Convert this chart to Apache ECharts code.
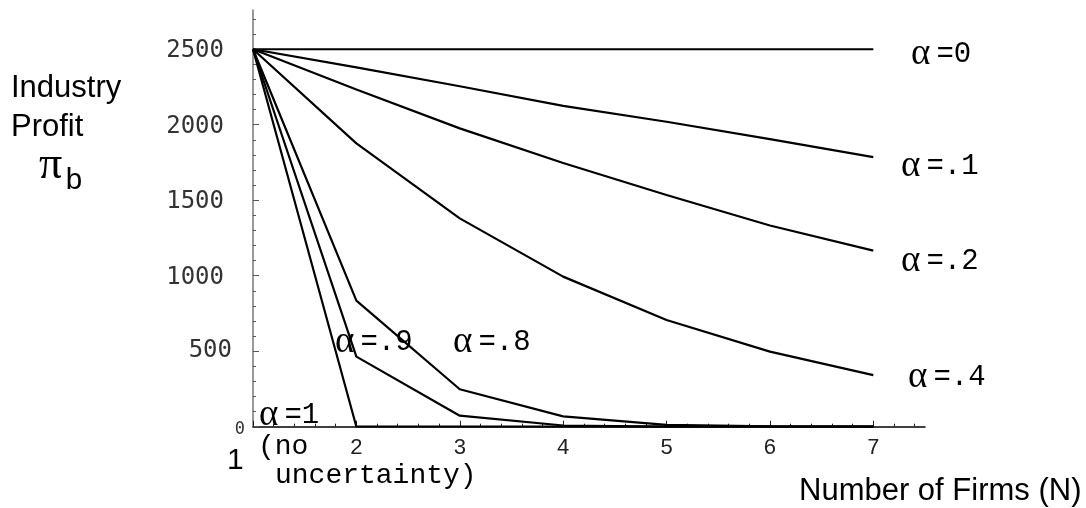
<!DOCTYPE html>
<html>
<head>
<meta charset="utf-8">
<script src="https://cdn.jsdelivr.net/npm/echarts@6/dist/echarts.min.js"></script>
<style>
html,body{margin:0;padding:0;background:#fff;}
#c{width:1086px;height:508px;}
</style>
</head>
<body>
<div id="c"></div>
<script>
// Number of firms
const N = [1, 2, 3, 4, 5, 6, 7];
// Industry profit for each alpha
const a0  = [2500, 2500, 2500, 2500, 2500, 2500, 2500];
const a1  = [2500, 2380, 2255, 2125, 2020, 1905, 1786];
const a2  = [2500, 2234, 1976, 1747, 1535, 1333, 1166];
const a4  = [2500, 1877, 1380, 994, 707, 497, 342];
const a8  = [2500, 835, 248, 68, 12, 2, 0];
const a9  = [2500, 464, 73, 8, 1, 0, 0];
const a10 = [2500, 0, 0, 0, 0, 0, 0];

// ticks
const yMajor = [0, 500, 1000, 1500, 2000, 2500];
const yMinor = [100, 200, 300, 400, 600, 700, 800, 900, 1100, 1200, 1300, 1400,
                1600, 1700, 1800, 1900, 2100, 2200, 2300, 2400, 2600, 2700];
const xMajor = [1, 2, 3, 4, 5, 6, 7];
const xLabels = [2, 3, 4, 5, 6, 7];
const xMinor = [1.2, 1.4, 1.6, 1.8, 2.2, 2.4, 2.6, 2.8, 3.2, 3.4, 3.6, 3.8,
                4.2, 4.4, 4.6, 4.8, 5.2, 5.4, 5.6, 5.8, 6.2, 6.4, 6.6, 6.8, 7.2, 7.4];

const seriesList = [a0, a1, a2, a4, a8, a9, a10];
const seriesNames = ['α=0', 'α=.1', 'α=.2', 'α=.4', 'α=.8', 'α=.9', 'α=1'];

const chart = echarts.init(document.getElementById('c'), null, {renderer: 'canvas'});

const mono = 'Liberation Mono';
const sans = 'Liberation Sans';

function alphaLabel(x, y, t) {
  return {
    type: 'text', x: x, y: y,
    style: {
      text: '{a|α}{t|' + t + '}',
      rich: {
        a: {fontFamily: 'Liberation Serif', fontSize: 37, fill: '#000', padding: [0, 6, 0, 0]},
        t: {fontFamily: mono, fontSize: 29, fill: '#000'}
      },
      align: 'left',
      verticalAlign: 'middle'
    }
  };
}
function txt(x, y, t, fam, size) {
  return {type: 'text', x: x, y: y,
    style: {text: t, fontFamily: fam, fontSize: size, fill: '#000', align: 'left', verticalAlign: 'middle'}};
}

const option = {
  backgroundColor: '#fff',
  animation: false,
  grid: {left: 253, right: 161, top: 10, bottom: 81.3, containLabel: false},
  xAxis: [{
    type: 'value', min: 1, max: 7.5, position: 'bottom',
    axisLine: {show: true, onZero: false, lineStyle: {color: '#000', width: 1.5}},
    axisTick: {show: true, inside: true, length: 6, customValues: xMajor, lineStyle: {color: '#222', width: 1}},
    axisLabel: {customValues: xLabels, fontFamily: mono, fontSize: 22, color: '#222', margin: 10},
    splitLine: {show: false}
  }, {
    type: 'value', min: 1, max: 7.5, position: 'bottom',
    axisLine: {show: false},
    axisTick: {show: true, inside: true, length: 3, customValues: xMinor, lineStyle: {color: '#222', width: 1}},
    axisLabel: {show: false},
    splitLine: {show: false}
  }],
  yAxis: [{
    type: 'value', min: 0, max: 2760, position: 'left',
    axisLine: {show: true, onZero: false, lineStyle: {color: '#777', width: 1.5}},
    axisTick: {show: true, inside: true, length: 6, customValues: yMajor, lineStyle: {color: '#555', width: 1}},
    axisLabel: {
      customValues: yMajor, margin: 8,
      formatter: function (v) {
        if (v === 0) return '{z|0}';
        if (v === 500) return '{m|500}';
        return '{n|' + v + '}';
      },
      rich: {
        z: {fontFamily: 'DejaVu Sans Mono', fontSize: 17, color: '#333', padding: [6, 0, 0, 0]},
        m: {fontFamily: 'DejaVu Sans Mono', fontSize: 24, color: '#333', padding: [0, 13, 0, 0]},
        n: {fontFamily: 'DejaVu Sans Mono', fontSize: 24, color: '#333', padding: [4, 21, 0, 0]}
      }
    },
    splitLine: {show: false}
  }, {
    type: 'value', min: 0, max: 2760, position: 'left',
    axisLine: {show: false},
    axisTick: {show: true, inside: true, length: 3, customValues: yMinor, lineStyle: {color: '#555', width: 1}},
    axisLabel: {show: false},
    splitLine: {show: false}
  }],
  series: seriesList.map(function (arr, i) {
    return {
      type: 'line', name: seriesNames[i], xAxisIndex: 0, yAxisIndex: 0,
      data: N.map(function (n, j) { return [n, arr[j]]; }),
      symbol: 'none', smooth: false,
      lineStyle: {color: '#000', width: 2.2},
      z: 3
    };
  }),
  graphic: [
    txt(11, 88, 'Industry', sans, 31),
    txt(11, 127, 'Profit', sans, 31),
    txt(39, 166, 'π', 'Liberation Serif', 46),
    txt(65, 181, 'b', mono, 30),
    alphaLabel(911, 54, '=0'),
    alphaLabel(901, 166, '=.1'),
    alphaLabel(901, 261, '=.2'),
    alphaLabel(908, 377, '=.4'),
    alphaLabel(335, 342, '=.9'),
    alphaLabel(453, 342, '=.8'),
    alphaLabel(259, 415, '=1'),
    txt(258, 447, '(no', mono, 28),
    txt(275, 476, 'uncertainty)', mono, 28),
    txt(227, 461, '1', sans, 30),
    txt(799, 491, 'Number of Firms (N)', sans, 31)
  ]
};
chart.setOption(option);
</script>
</body>
</html>
